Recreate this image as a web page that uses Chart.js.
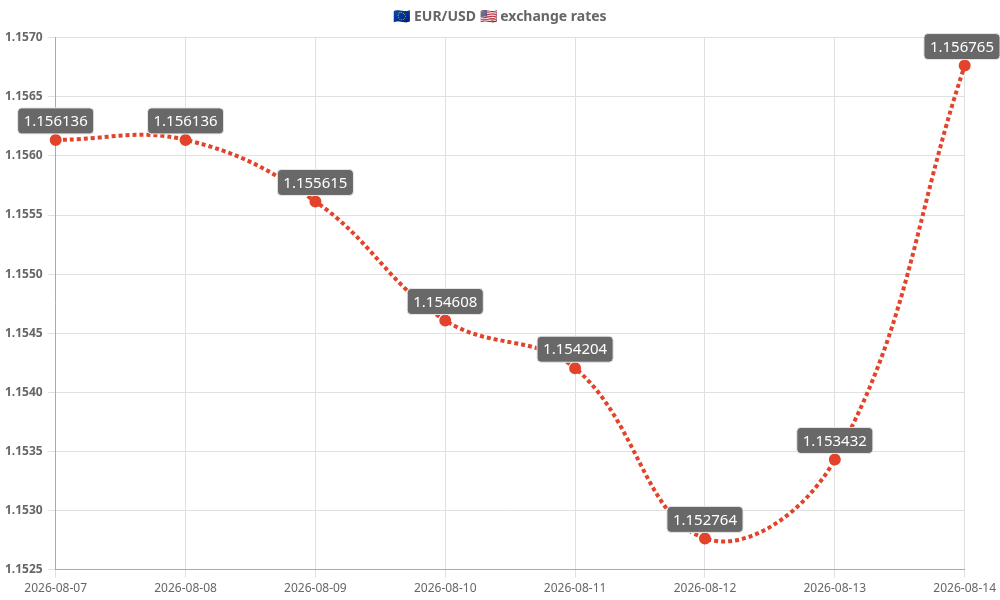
<!DOCTYPE html>
<html>
<head>
<meta charset="utf-8">
<script src="https://cdn.jsdelivr.net/npm/chart.js@4/dist/chart.umd.min.js"></script>
<style>
  html, body { margin: 0; padding: 0; background: #fff; }
  #wrap { width: 1000px; height: 600px; }
</style>
</head>
<body>
<div id="wrap"><canvas id="myChart"></canvas></div>
<script>
const dates = ["2026-08-07", "2026-08-08", "2026-08-09", "2026-08-10", "2026-08-11", "2026-08-12", "2026-08-13", "2026-08-14"];
const rates = [1.156136, 1.156136, 1.155615, 1.154608, 1.154204, 1.152764, 1.153432, 1.156765];
const yMin = 1.1525;
const yMax = 1.157;
const yStep = 0.0005;

const lineColor = "#e2432a";

// draws the grey value boxes above each point
const valueBoxes = {
  id: "valueBoxes",
  afterDatasetsDraw(chart) {
    const ctx = chart.ctx;
    const meta = chart.getDatasetMeta(0);
    ctx.save();
    ctx.font = "15px 'Noto Sans'";
    ctx.textAlign = "center";
    ctx.textBaseline = "middle";
    meta.data.forEach((pt, i) => {
      const text = rates[i].toFixed(6);
      const w = ctx.measureText(text).width + 12;
      const h = 26;
      let cx = pt.x;
      if (cx - w / 2 < 0) cx = w / 2;
      if (cx + w / 2 > chart.width) cx = chart.width - w / 2;
      const cy = pt.y - 19;
      ctx.beginPath();
      ctx.roundRect(cx - w / 2, cy - h / 2, w, h, 4);
      ctx.fillStyle = "#686868";
      ctx.fill();
      ctx.lineWidth = 1;
      ctx.strokeStyle = "#e8e8e8";
      ctx.stroke();
      ctx.fillStyle = "#ffffff";
      ctx.fillText(text, cx, cy + 1);
    });
    ctx.restore();
  }
};

Chart.defaults.font.family = "'Noto Sans'";
Chart.defaults.color = "#666";

const ctx = document.getElementById("myChart").getContext("2d");
new Chart(ctx, {
  type: "line",
  data: {
    labels: dates,
    datasets: [{
      label: "EUR/USD",
      data: rates,
      borderColor: lineColor,
      backgroundColor: lineColor,
      borderWidth: 4,
      borderDash: [4, 3],
      tension: 0.4,
      pointRadius: 4,
      pointBackgroundColor: lineColor,
      pointBorderColor: lineColor,
      fill: false
    }]
  },
  options: {
    responsive: true,
    maintainAspectRatio: false,
    animation: false,
    plugins: {
      legend: { display: false },
      tooltip: { enabled: false },
      title: {
        display: true,
        text: "🇪🇺 EUR/USD 🇺🇸 exchange rates",
        color: "#666",
        font: { size: 14, weight: "bold" },
        padding: { top: 9, bottom: 12 }
      }
    },
    scales: {
      x: {
        grid: { color: "#e0e0e0" },
        border: { color: "#aaa" },
        ticks: { color: "#666", font: { size: 12 }, maxRotation: 0, padding: 4 }
      },
      y: {
        min: yMin,
        max: yMax,
        grid: { color: "#e0e0e0" },
        border: { color: "#aaa" },
        ticks: {
          stepSize: yStep,
          color: "#666",
          padding: 5,
          font: { size: 12, weight: "bold" },
          callback: (v) => Number(v).toFixed(4)
        }
      }
    }
  },
  plugins: [valueBoxes]
});
</script>
</body>
</html>
